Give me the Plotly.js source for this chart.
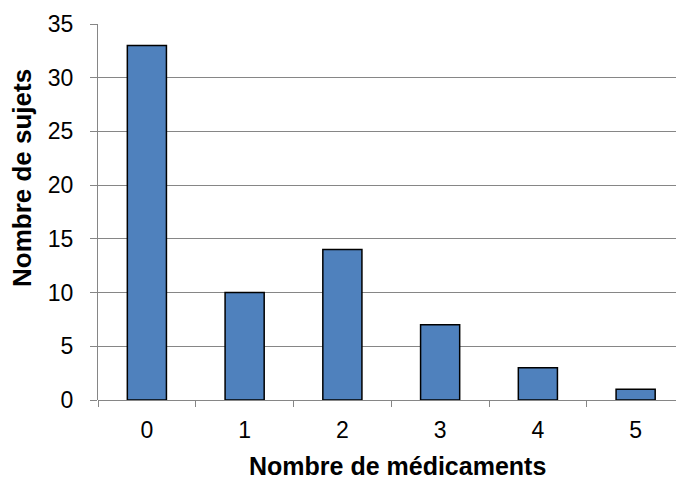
<!DOCTYPE html>
<html>
<head>
<meta charset="utf-8">
<script src="https://cdn.plot.ly/plotly-3.0.1.min.js"></script>
<style>html,body{margin:0;padding:0;background:#fff;}#chart{width:676px;height:479px;}</style>
</head>
<body>
<div id="chart"></div>
<script>
const categories = ["0", "1", "2", "3", "4", "5"];
const subjects = [33, 10, 14, 7, 3, 1];
const yTicks = [0, 5, 10, 15, 20, 25, 30, 35];
const xTitle = "Nombre de médicaments";
const yTitle = "Nombre de sujets";

const FONT = "Liberation Sans, Arial, sans-serif";

const trace = {
  type: "bar",
  x: categories,
  y: subjects,
  marker: { color: "#4F81BD", line: { color: "#000000", width: 1.5 } },
  hoverinfo: "none"
};

const layout = {
  width: 676,
  height: 479,
  margin: { l: 98, r: 0, t: 24, b: 79 },
  paper_bgcolor: "#ffffff",
  plot_bgcolor: "#ffffff",
  showlegend: false,
  bargap: 0.6,
  font: { family: FONT, color: "#000000" },
  xaxis: {
    type: "category",
    range: [-0.5, 5.413],
    showgrid: false,
    showline: false,
    zeroline: false,
    ticks: "outside",
    tickson: "boundaries",
    ticklen: 6,
    tickcolor: "#868686",
    tickwidth: 1,
    ticklabelstandoff: 14,
    tickfont: { size: 23, family: FONT, color: "#000" }
  },
  yaxis: {
    range: [0, 35],
    tickvals: yTicks,
    ticktext: yTicks.map(String),
    showgrid: true,
    gridcolor: "#868686",
    gridwidth: 1,
    zeroline: true,
    zerolinecolor: "#868686",
    zerolinewidth: 1,
    showline: true,
    linecolor: "#868686",
    linewidth: 1,
    ticks: "outside",
    ticklen: 7,
    tickcolor: "#868686",
    ticklabelstandoff: 12,
    tickfont: { size: 23, family: FONT, color: "#000" }
  },
  annotations: [
    { text: "<b>" + xTitle + "</b>", xref: "paper", yref: "paper", x: (397 - 98) / 578, y: -(466 - 400) / 376,
      xanchor: "center", yanchor: "middle", showarrow: false, font: { size: 25, family: FONT, color: "#000" } },
    { text: "<b>" + yTitle + "</b>", xref: "paper", yref: "paper", x: -(98 - 22) / 578, y: (400 - 178) / 376,
      xanchor: "center", yanchor: "middle", textangle: -90, showarrow: false, font: { size: 26, family: FONT, color: "#000" } }
  ]
};

Plotly.newPlot("chart", [trace], layout, { displayModeBar: false, staticPlot: true });
</script>
</body>
</html>
